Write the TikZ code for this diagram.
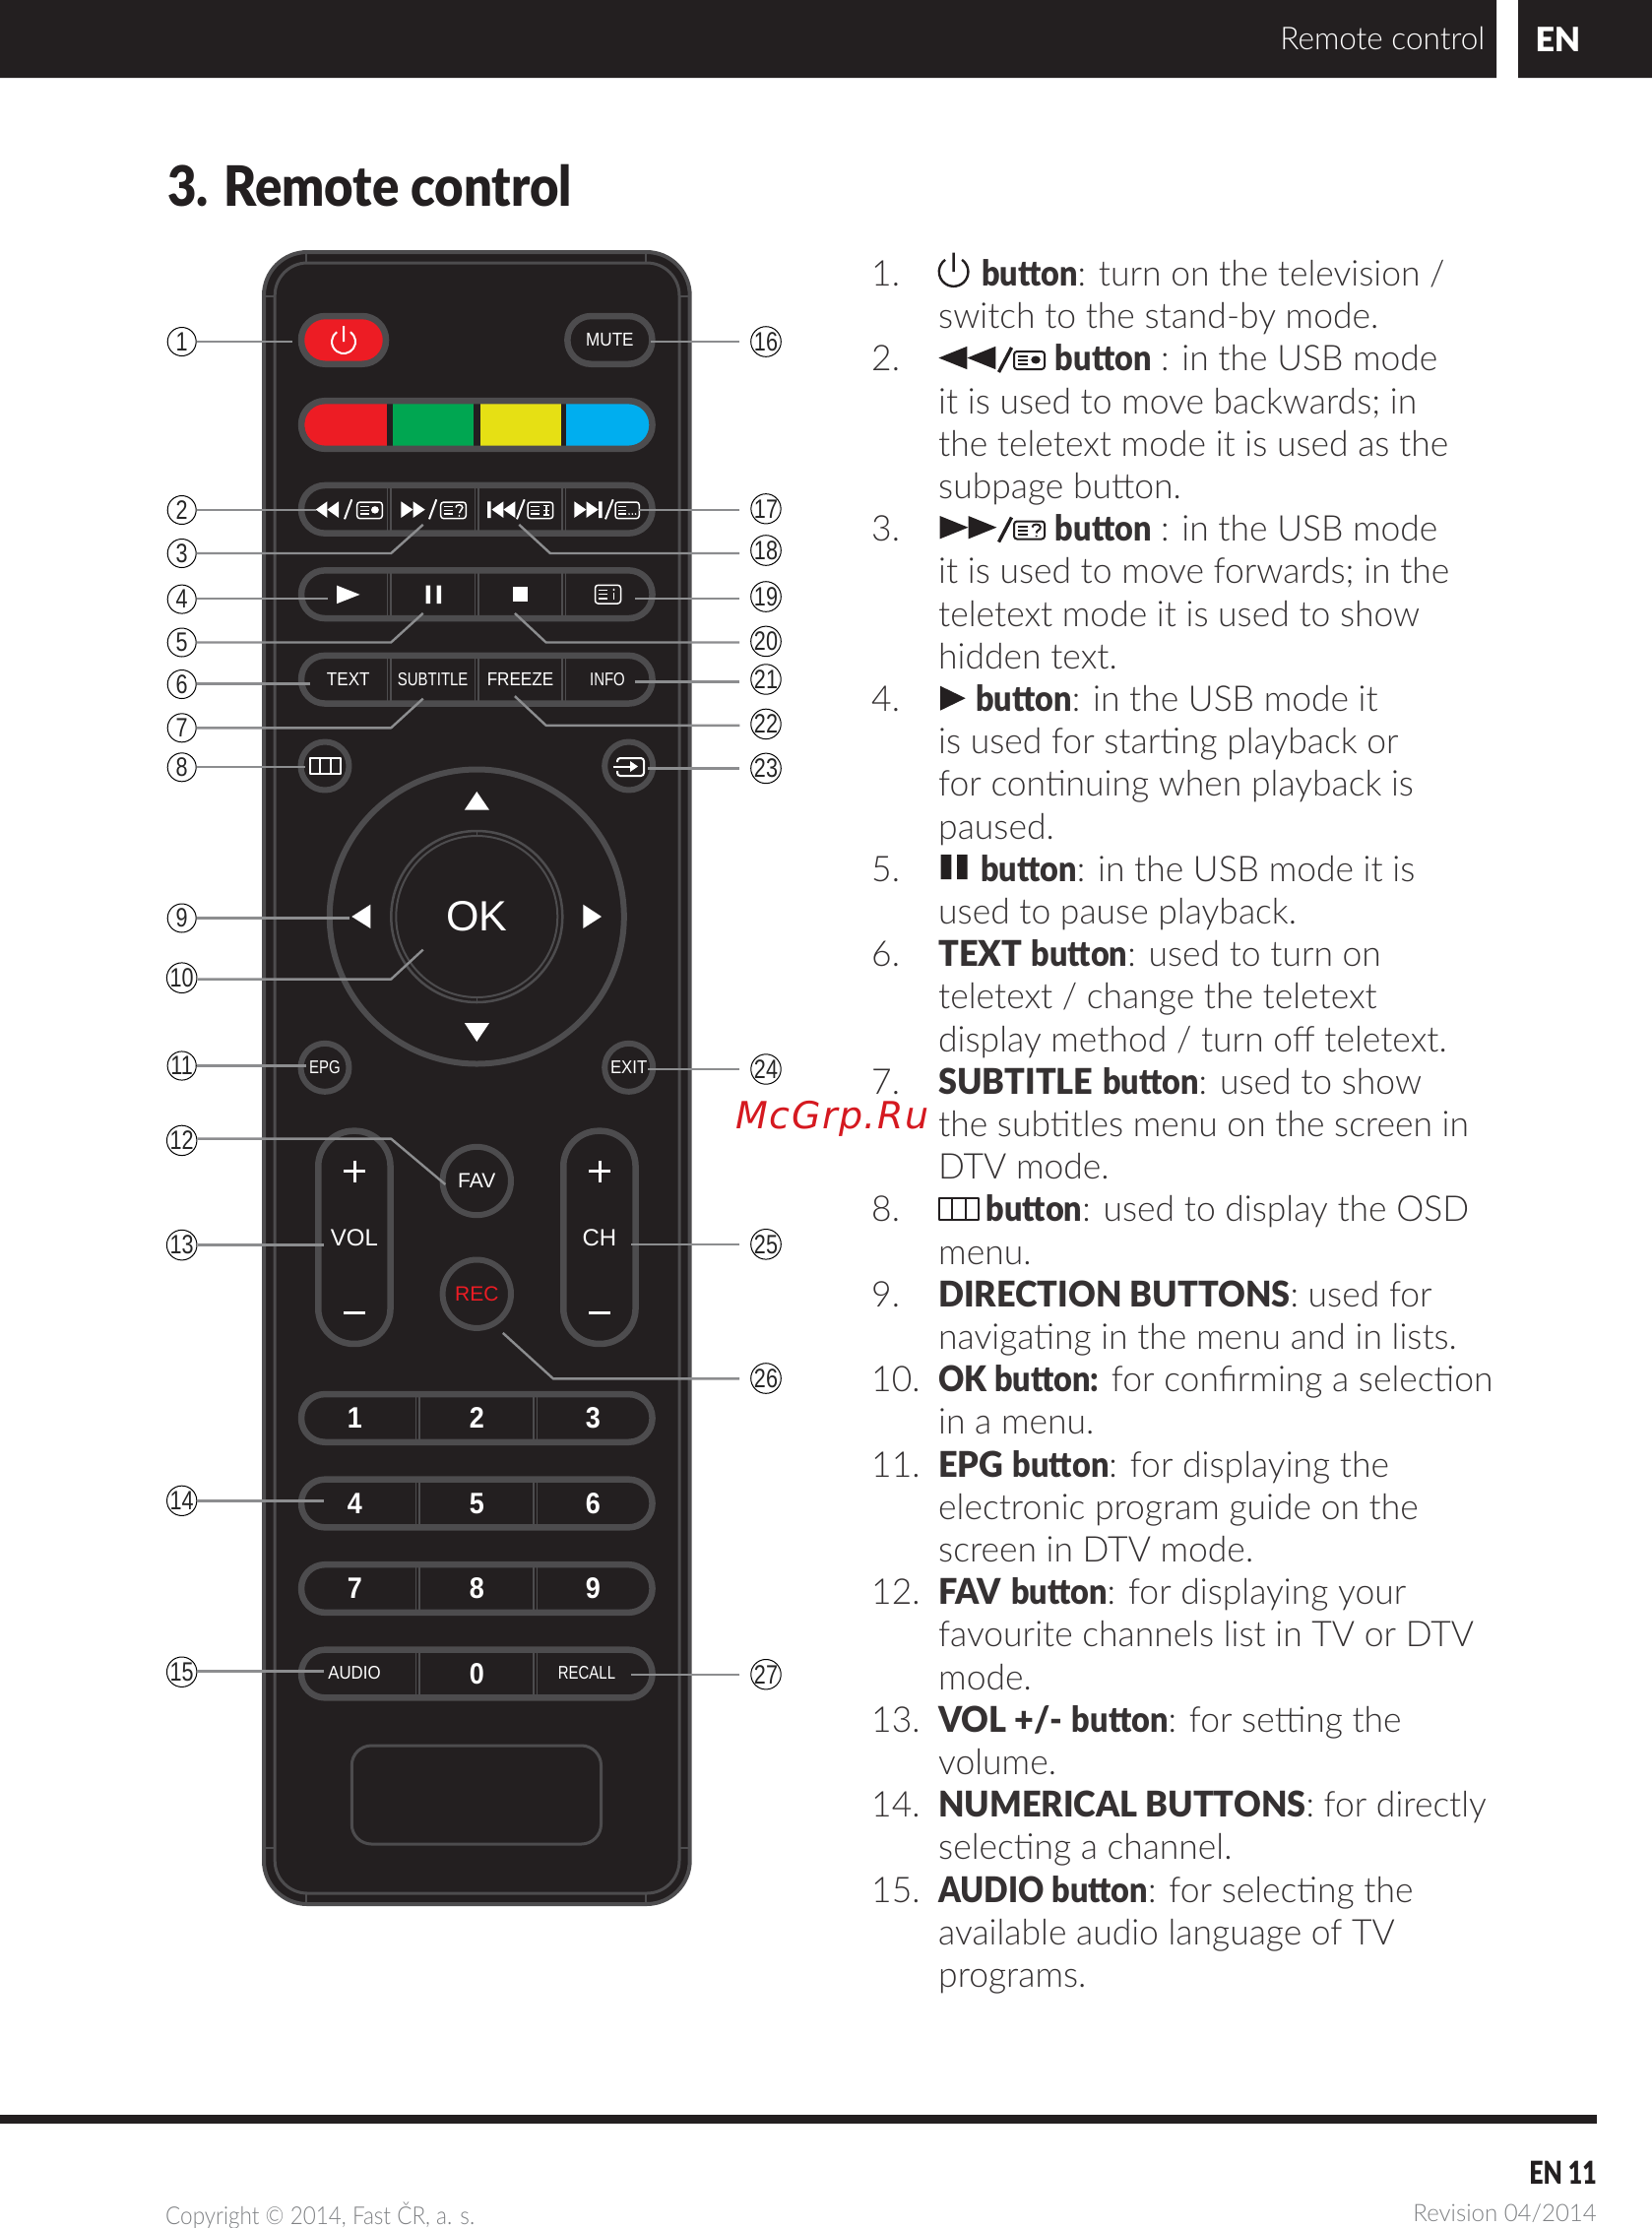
\documentclass[tikz,border=0pt]{standalone}
\usepackage{fontspec}
\setmainfont{Lato Light}[FakeStretch=0.985, BoldFont={Lato Black}, BoldFeatures={FakeStretch=0.9}]
\newfontfamily\keyfont{Liberation Sans}
\newfontfamily\keymid[FakeStretch=0.9]{Liberation Sans}
\newfontfamily\keythin[FakeStretch=0.8]{Liberation Sans}
\newfontfamily\markfont[LetterSpace=4]{DejaVu Sans}
\newfontfamily\heavyfont{Lato Black}
\newfontfamily\heavywide[FakeStretch=0.9]{Lato Black}
\newfontfamily\heavycaps[FakeStretch=0.95]{Lato Black}
\newfontfamily\heavynarrow[FakeStretch=0.78]{Lato Black}
\newfontfamily\footfont[FakeStretch=0.9]{Lato Light}
\newcommand{\fs}[1]{\fontsize{#1}{#1}\selectfont}
\newcommand{\gap}[1]{\hspace*{#1pt}}
\newcommand{\capsb}[1]{{\heavycaps #1}}
\definecolor{bodyblack}{HTML}{231F20}
\definecolor{rimgray}{HTML}{4D4C4E}
\definecolor{leadgray}{HTML}{8C8D8F}
\definecolor{footgray}{HTML}{808285}
\definecolor{keyred}{HTML}{ED1C24}
\definecolor{keygreen}{HTML}{00A651}
\definecolor{keyyellow}{HTML}{E6E014}
\definecolor{keyblue}{HTML}{00AEEF}
\tikzset{
	pill/.style={draw=rimgray, line width=6.5pt, inner sep=0pt, shape=rectangle},
	roundkey/.style={draw=rimgray, line width=6pt, circle, inner sep=0pt},
	keytext/.style={text=white, inner sep=0pt},
	numkey/.style={keytext, font=\keymid\bfseries\fs{30}},
	listtext/.style={anchor=base west, inner sep=0pt, text=bodyblack!92, font=\fs{36}},
	num/.style={draw=black, line width=1pt, circle, minimum size=29pt, inner sep=0pt, text=black!85, font=\keythin\fs{27}},
	leader/.style={draw=leadgray, line width=2.4pt},
}
% teletext symbol: box 26 by 18, scaled to w by h, last argument is the mark inside
\newcommand{\tvbox}[5]{
	\begin{scope}[shift={(#1,#2)}, xscale=#3/26, yscale=#4/18]
		\draw[rounded corners=3pt] (0,0) rectangle (26,18);
		\draw (3,5)--(12,5) (3,9)--(12,9) (3,13)--(12,13);
		#5
	\end{scope}}
\newcommand{\twotri}[4]{
	\fill (#1,#2) --++(#3,-#4) --++(0,2*#4) --cycle;
	\fill (#1+#3,#2) --++(#3,-#4) --++(0,2*#4) --cycle;}
\newcommand{\markdisk}{\fill (18.5,8.5) circle (4);}
\newcommand{\markask}{\draw (15.5,6) .. controls (15.5,2) and (22.5,2) .. (22.5,6) .. controls (22.5,9) and (19,9) .. (19,12); \fill (19,15) circle (1);}
\newcommand{\markbar}{\draw (16,4)--(22,4) (19,4)--(19,14) (16,14)--(22,14) (16,9)--(22,9);}
\newcommand{\markdots}{\fill (15,13) circle (1) (18.5,13) circle (1) (22,13) circle (1);}
\newcommand{\marki}{\fill (19,4.5) circle (1.2); \draw (19,7.5)--(19,14);}
\begin{document}
\begin{tikzpicture}[x=1pt, y=-1pt, line join=round]
	\useasboundingbox (0,0) rectangle (1678,2263);
	\fill[white] (0,0) rectangle (1678,2263);
	% header and footer
	\fill[bodyblack] (0,0) rectangle (1520,79) (1542,0) rectangle (1678,79);
	\node[anchor=base east, inner sep=0pt, text=white, font=\fs{32}] (headtitle) at (1508.5,50.7) {Remote control};
	\node[anchor=base west, inner sep=0pt, text=white, font=\heavyfont\fs{34}] (headlang) at (1559.3,52.3) {EN};
	\node[anchor=base west, inner sep=0pt, text=bodyblack, font=\heavywide\fs{56.5}] (title) at (170,209.3) {3. Remote control};
	\fill[bodyblack] (0,2148) rectangle (1622,2156.7);
	\node[anchor=base east, inner sep=0pt, text=bodyblack, font=\heavynarrow\fs{32}] (pageno) at (1622,2218.7) {EN 11};
	\node[anchor=base east, inner sep=0pt, text=footgray, font=\fs{24.4}] (revision) at (1622,2256) {Revision 04/2014};
	\node[anchor=base west, inner sep=0pt, text=footgray, font=\footfont\fs{25}] (copyright) at (168,2259) {Copyright © 2014, Fast ČR, a. s.};
	% body of the remote
	\draw[rimgray, line width=4pt, fill=bodyblack, rounded corners=44pt] (268,256) rectangle (700.7,1934);
	\draw[rimgray, line width=3pt, rounded corners=33pt] (279.2,267) rectangle (690,1923);
	\draw[rimgray, line width=2pt]
		(311.3,256)--(311.3,267) (656,256)--(656,267) (311.3,1923)--(311.3,1934) (656,1923)--(656,1934)
		(268,300.7)--(279.2,300.7) (690,300.7)--(700.7,300.7) (268,1876.8)--(279.2,1876.8) (690,1876.8)--(700.7,1876.8);
	% power, mute, colour keys
	\node[pill, fill=keyred, rounded corners=24pt, minimum width=86pt, minimum height=48.7pt] (power) at (349,345.4) {};
	\draw[white, line width=2pt] (355.9,337.2) arc (-55:235:12) (349,331)--(349,347);
	\node[pill, rounded corners=24pt, minimum width=86pt, minimum height=48.7pt] (mute) at (619.4,345.4) {};
	\node[keytext, font=\keymid\fs{19}] (mutetext) at (mute) {MUTE};
	\begin{scope}
		\clip[rounded corners=22pt] (309,409) rectangle (660.8,453.6);
		\fill[keyred] (309,409) rectangle (392.8,453.6);
		\fill[keygreen] (398.5,409) rectangle (480.9,453.6);
		\fill[keyyellow] (487.8,409) rectangle (569.8,453.6);
		\fill[keyblue] (575,409) rectangle (660.8,453.6);
	\end{scope}
	\node[pill, rounded corners=24pt, minimum width=356.5pt, minimum height=48.7pt] (colours) at (484.3,431.5) {};
	% rows of four
	\foreach \r/\y in {trick/517.3, media/603.7, info/690.2} {
		\node[pill, rounded corners=24pt, minimum width=356.5pt, minimum height=48.7pt] (\r row) at (484.3,\y) {};
		\foreach \x in {395,484,572.7}
			\draw[rimgray, line width=1.6pt] (\x-1.7,\y-24)--(\x-1.7,\y+24) (\x+1.7,\y-24)--(\x+1.7,\y+24);
	}
	\begin{scope}[fill=white, draw=white, text=white, line width=1.5pt]
		\twotri{320.7}{517.6}{11.7}{8.35}
		\twotri{431.7}{517.6}{-12.2}{8.35}
		\twotri{499.5}{517.6}{11.9}{8.35}
		\twotri{607.7}{517.6}{-12.2}{8.35}
		\fill (495,509.3) rectangle (498.5,526) (608.2,509.3) rectangle (611.7,526);
		\draw[line width=2pt] (350,527.3)--(357.3,507.3) (436,527.3)--(443.3,507.3) (525,527.3)--(532.7,507.3) (615,527.3)--(622.7,507.3);
		\tvbox{362.7}{510}{25.6}{16.7}{\markdisk}
		\tvbox{447.7}{510}{25.6}{16.7}{\markask}
		\tvbox{536}{510}{25.7}{16.7}{\markbar}
		\tvbox{625}{510}{24.3}{16.7}{\markdots}
		\fill (342,594.6)--(365.5,603.9)--(342,613.2)--cycle;
		\fill (432.7,594.6) rectangle (437,613.2) (443.6,594.6) rectangle (448,613.2);
		\fill (520.8,596) rectangle (536,611.4);
		\tvbox{604.5}{594.3}{26}{18.7}{\marki}
	\end{scope}
	\node[keytext, font=\keymid\fs{19}] (textkey) at (353.8,690) {TEXT};
	\node[keytext, font=\keythin\fs{18.7}] (subkey) at (439.7,690) {SUBTITLE};
	\node[keytext, font=\keymid\fs{19}] (freezekey) at (528.5,690) {FREEZE};
	\node[keytext, font=\keythin\fs{18.7}] (infokey) at (617,690) {INFO};
	% small round keys
	\node[roundkey, minimum size=49pt] (menu) at (330,778) {};
	\node[roundkey, minimum size=49pt] (input) at (638.7,778) {};
	\node[roundkey, minimum size=49pt] (epg) at (330,1084.3) {};
	\node[roundkey, minimum size=49pt] (exit) at (638.7,1084.3) {};
	\node[keytext, font=\keythin\fs{18.7}] (epgtext) at (epg) {EPG};
	\node[keytext, font=\keymid\fs{18.7}] (exittext) at (exit) {EXIT};
	\draw[white, line width=2pt] (314.8,770) rectangle (346,786) (325.2,770)--(325.2,786) (335.6,770)--(335.6,786);
	\draw[white, line width=2pt, rounded corners=3pt] (627,774) -- (627,770) -- (654,770) -- (654,788) -- (627,788) -- (627,783);
	\draw[white, line width=2pt] (622.7,778.5) -- (642,778.5);
	\fill[white] (648,778.5) -- (640,773) -- (640,784) -- cycle;
	% direction keys
	\node[circle, draw=rimgray, line width=6pt, minimum size=299pt, inner sep=0pt] (dpad) at (484.3,931) {};
	\node[circle, draw=rimgray, line width=2.5pt, minimum size=174pt, inner sep=0pt] (okring) at (dpad) {};
	\node[circle, draw=rimgray, line width=2pt, minimum size=164pt, inner sep=0pt] (okinner) at (dpad) {};
	\draw[rimgray, line width=1.5pt] (484.3,843)--(484.3,849) (484.3,1013)--(484.3,1019);
	\node[keytext, font=\keyfont\fs{43}] (oktext) at (dpad) {OK};
	\fill[white] (484.3,804)--(497,822.7)--(471.8,822.7)--cycle;
	\fill[white] (484.3,1058)--(497,1039)--(471.8,1039)--cycle;
	\fill[white] (357.3,931)--(376.4,918.7)--(376.4,943)--cycle;
	\fill[white] (611,931)--(592.3,918.7)--(592.3,943)--cycle;
	% volume, channel, fav, rec
	\node[pill, rounded corners=36pt, minimum width=73.3pt, minimum height=216.3pt] (vol) at (359.9,1256.8) {};
	\node[pill, rounded corners=36pt, minimum width=73.3pt, minimum height=216.3pt] (ch) at (608.9,1256.8) {};
	\node[keytext, font=\keyfont\fs{24}] (voltext) at (vol) {VOL};
	\node[keytext, font=\keyfont\fs{24}] (chtext) at (ch) {CH};
	\draw[white, line width=3.2pt] (349.4,1189.6)--(371.2,1189.6) (360.3,1178.7)--(360.3,1200.5) (349.4,1333.8)--(371.2,1333.8)
		(598.4,1189.6)--(620.2,1189.6) (609.3,1178.7)--(609.3,1200.5) (598.4,1333.8)--(620.2,1333.8);
	\node[roundkey, minimum size=69.4pt] (fav) at (484.3,1199.5) {};
	\node[roundkey, minimum size=69.4pt] (rec) at (484.3,1314.2) {};
	\node[keytext, font=\keyfont\fs{21}] (favtext) at (fav) {FAV};
	\node[keytext, text=keyred, font=\keyfont\fs{21}] (rectext) at (rec) {REC};
	% number keys
	\foreach \r/\y/\a/\b/\c in {one/1440.4/1/2/3, two/1527/4/5/6, three/1613.5/7/8/9, four/1700/\vphantom{0}/0/} {
		\node[pill, rounded corners=24pt, minimum width=356.5pt, minimum height=48.7pt] (\r row) at (484.3,\y) {};
		\foreach \x in {424,543.8}
			\draw[rimgray, line width=1.6pt] (\x-1.7,\y-24)--(\x-1.7,\y+24) (\x+1.7,\y-24)--(\x+1.7,\y+24);
		\node[numkey] (\r a) at (360.3,\y) {\a};
		\node[numkey] (\r b) at (484.3,\y) {\b};
		\node[numkey] (\r c) at (602.3,\y) {\c};
	}
	\node[keytext, font=\keymid\fs{18.7}] (audiotext) at (360,1699) {AUDIO};
	\node[keytext, font=\keythin\fs{18.7}] (recalltext) at (596,1699) {RECALL};
	\draw[rimgray, line width=3pt, rounded corners=20pt] (357.3,1773) rectangle (610.5,1873);
	% leaders, left side
	\foreach \n/\cy/\ly/\kx/\ex/\ey in {1/347/347/296.6/296.6/347, 2/518/518/321/321/518,
		3/562/562/397.2/429.7/532.9, 4/608.6/608.2/333/333/608.2, 5/652.5/652.5/397.2/429.7/622.9,
		6/695/694.6/314.8/314.8/694.6, 7/739.3/739.3/397.2/429.7/709.6, 8/779.3/779/310/310/779,
		9/932.5/932.5/354.7/354.7/932.5, 10/993.2/994.6/397.2/429.7/964.6, 11/1082.5/1082.5/311.3/311.3/1082.5,
		12/1158.4/1156.6/397.2/452.3/1203, 13/1264.6/1264.6/328.7/328.7/1264.6,
		14/1524.3/1524.3/328.7/328.7/1524.3, 15/1698.2/1697.5/328.7/328.7/1697.5} {
		\node[num] (n\n) at (184.7,\cy) {\n};
		\coordinate (k\n) at (\kx,\ly);
		\coordinate (e\n) at (\ex,\ey);
		\draw[leader] (n\n.east |- k\n) -- (k\n) -- (e\n);
	}
	% leaders, right side
	\foreach \n/\cy/\ly/\kx/\ex/\ey in {16/347/347/660.8/660.8/347, 17/516.8/517.9/648.7/648.7/517.9,
		18/559/562/558.9/527.3/532.9, 19/606/608.2/645.2/645.2/608.2, 20/651.4/652.5/554.6/522.9/622.9,
		21/690/692.5/645.2/645.2/692.5, 22/735.4/736.8/554.6/522.9/707.1, 23/780.4/780.4/658.2/658.2/780.4,
		24/1086/1086/658/658/1086, 25/1263.8/1263.8/640.9/640.9/1263.8, 26/1400/1400.4/562/510.8/1353.9,
		27/1700.7/1700.7/640.9/640.9/1700.7} {
		\node[num] (n\n) at (778,\cy) {\n};
		\coordinate (k\n) at (\kx,\ly);
		\coordinate (e\n) at (\ex,\ey);
		\draw[leader, shorten <=11pt] (n\n.west |- k\n) -- (k\n) -- (e\n);
	}
	% list
	\foreach \n/\i in {1/0, 2/2, 3/6, 4/10, 5/14, 6/16, 7/19, 8/22, 9/24, 10/26, 11/28, 12/31, 13/34, 14/36, 15/38}
		\node[listtext] (m\n) at (885,{290.5+43.2*\i}) {\n.};
	\foreach \t [count=\i from 0] in {
		{\gap{43.8}\textbf{button}: turn on the television /},
		{switch to the stand-by mode.},
		{\gap{118.7}\textbf{button} : in the USB mode},
		{it is used to move backwards; in},
		{the teletext mode it is used as the},
		{subpage button.},
		{\gap{118.7}\textbf{button} : in the USB mode},
		{it is used to move forwards; in the},
		{teletext mode it is used to show},
		{hidden text.},
		{\gap{38}\textbf{button}: in the USB mode it},
		{is used for starting playback or},
		{for continuing when playback is},
		{paused.},
		{\gap{43}\textbf{button}: in the USB mode it is},
		{used to pause playback.},
		{\capsb{TEXT} \textbf{button}: used to turn on},
		{teletext / change the teletext},
		{display method / turn off teletext.},
		{\capsb{SUBTITLE} \textbf{button}: used to show},
		{the subtitles menu on the screen in},
		{DTV mode.},
		{\gap{48.5}\textbf{button}: used to display the OSD},
		{menu.},
		{\capsb{DIRECTION BUTTONS}: used for},
		{navigating in the menu and in lists.},
		{\textbf{OK button:} for confirming a selection},
		{in a menu.},
		{\capsb{EPG} \textbf{button}: for displaying the},
		{electronic program guide on the},
		{screen in DTV mode.},
		{\capsb{FAV} \textbf{button}: for displaying your},
		{favourite channels list in TV or DTV},
		{mode.},
		{\capsb{VOL +/-} \textbf{button}: for setting the},
		{volume.},
		{\capsb{NUMERICAL BUTTONS}: for directly},
		{selecting a channel.},
		{\textbf{AUDIO button}: for selecting the},
		{available audio language of TV},
		{programs.}}
		\node[listtext] (t\i) at (953,{290.5+43.2*\i}) {\t};
	% symbols in the list
	\begin{scope}[fill=bodyblack, draw=bodyblack, line width=2pt]
		\draw[line width=2.4pt] (977.1,263.9) arc (-55:235:14.8) (968.6,256.7)--(968.6,276);
		\twotri{953.4}{363.5}{29}{11.7}
		\draw[line width=3.4pt] (1014.5,378)--(1027.5,353) (1014.5,550.5)--(1027.5,525.5);
		\tvbox{1030}{357}{31}{18}{\markdisk}
		\twotri{1012.4}{535.7}{-28.9}{11.7}
		\tvbox{1030}{529.5}{31}{18}{\markask}
		\fill (955,696.7)--(980.7,709.2)--(955,721.7)--cycle;
		\fill (955.7,868) rectangle (966.4,893) (972,868) rectangle (982.5,893);
		\draw (953.5,1217) rectangle (994,1239) (967,1217)--(967,1239) (980.5,1217)--(980.5,1239);
	\end{scope}
	% watermark
	\node[anchor=base west, inner sep=0pt, text=keyred!90!black, font=\markfont\itshape\fs{38}] (mark) at (747.3,1146) {McGrp.Ru};
\end{tikzpicture}
\end{document}
